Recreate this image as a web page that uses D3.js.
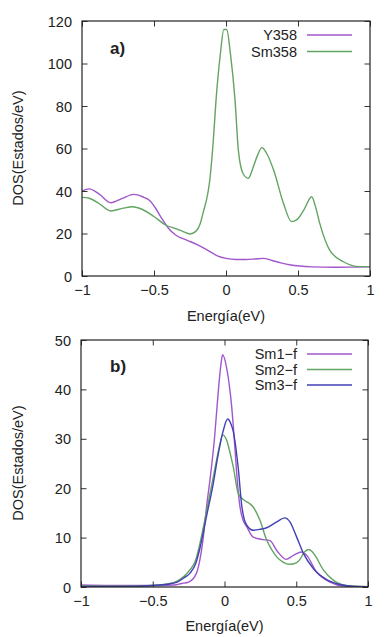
<!DOCTYPE html>
<html><head><meta charset="utf-8">
<script src="https://cdn.jsdelivr.net/npm/d3@7/dist/d3.min.js"></script>
<style>
html,body{margin:0;padding:0;background:#fff;}
svg text{font-family:"Liberation Sans",Arial,Helvetica,sans-serif;fill:#222;}
</style></head>
<body>
<script>
// ---------- data ----------
const xTicks = [-1, -0.5, 0, 0.5, 1];
const xTickLabels = ["\u22121", "\u22120.5", "0", "0.5", "1"];
const yTicksA = [0, 20, 40, 60, 80, 100, 120];
const yTicksB = [0, 10, 20, 30, 40, 50];
const seriesNamesA = ["Y358", "Sm358"];
const seriesNamesB = ["Sm1\u2212f", "Sm2\u2212f", "Sm3\u2212f"];

const y358 = [[-1,40],[-0.95,41],[-0.88,38.5],[-0.8,34.5],[-0.72,36.5],[-0.64,38.4],[-0.58,37.3],[-0.53,35.5],[-0.49,32],[-0.45,27.5],[-0.4,22.5],[-0.35,19.3],[-0.27,16.8],[-0.2,14.8],[-0.12,11.8],[-0.06,9.5],[0,8.3],[0.07,7.8],[0.14,7.8],[0.2,8],[0.26,8.3],[0.32,7.3],[0.38,6.2],[0.45,5.2],[0.51,4.7],[0.6,4.3],[0.75,4.1],[0.9,4.2],[1,4.3]];
const sm358 = [[-1,37],[-0.95,36.6],[-0.88,34],[-0.8,30.6],[-0.72,31.8],[-0.65,32.6],[-0.58,31.3],[-0.5,28],[-0.42,24],[-0.35,22.3],[-0.3,21],[-0.25,19.8],[-0.21,21],[-0.18,24.5],[-0.16,29.5],[-0.11,46.7],[-0.088,64],[-0.069,83],[-0.04,104],[-0.015,116],[0.005,116],[0.03,105],[0.0625,83],[0.086,59],[0.12,48],[0.155,46],[0.19,51.4],[0.22,57],[0.25,60.4],[0.28,58],[0.33,50],[0.4,34],[0.455,25.6],[0.49,26.4],[0.54,31],[0.595,37.3],[0.62,33],[0.65,25],[0.72,12.2],[0.815,6.7],[0.93,4.4],[1,4.4]];

const sm1f = [[-1,0.4],[-0.8,0.3],[-0.6,0.3],[-0.45,0.3],[-0.35,0.4],[-0.3,0.7],[-0.25,1.0],[-0.2,2.5],[-0.175,5],[-0.148,10],[-0.124,16.5],[-0.1,22],[-0.07,30],[-0.045,39],[-0.025,45],[-0.013,47],[0.017,44],[0.05,36.5],[0.073,28],[0.085,23],[0.108,16.2],[0.13,13.5],[0.155,12.2],[0.2,10.1],[0.27,9.6],[0.317,9.4],[0.364,7.4],[0.429,5.6],[0.48,6.4],[0.538,7.1],[0.573,6.4],[0.642,3.0],[0.735,1.0],[0.83,0.2],[1,0.05]];
const sm2f = [[-1,0.2],[-0.7,0.15],[-0.5,0.3],[-0.4,0.6],[-0.33,1.2],[-0.28,2.2],[-0.24,3.5],[-0.2,5.5],[-0.17,9],[-0.124,15.5],[-0.09,20.5],[-0.06,25],[-0.035,28.5],[-0.013,30.8],[0.015,29.7],[0.04,27],[0.061,24.3],[0.096,18.9],[0.131,17.7],[0.17,17],[0.2,16.2],[0.247,13.5],[0.294,9.5],[0.33,7.5],[0.364,6.1],[0.41,5],[0.456,4.6],[0.5,4.9],[0.526,5.6],[0.555,7],[0.584,7.6],[0.61,7.2],[0.631,6.4],[0.69,3.4],[0.758,1.4],[0.85,0.3],[1,0.05]];
const sm3f = [[-1,0.1],[-0.7,0.1],[-0.5,0.3],[-0.4,0.55],[-0.33,1.0],[-0.28,1.9],[-0.24,2.8],[-0.2,4.8],[-0.17,8],[-0.124,14.5],[-0.078,21],[-0.043,27],[-0.01,31.5],[0.022,34],[0.045,33],[0.061,31.5],[0.096,24],[0.12,16.5],[0.155,12.5],[0.2,11.5],[0.25,11.7],[0.294,12],[0.364,13.2],[0.42,14],[0.456,13.2],[0.503,10.1],[0.55,6.8],[0.62,3.7],[0.712,1.5],[0.805,0.5],[0.9,0.1],[1,0.05]];

const colPurple = "#a157cb", colGreen = "#62a462", colBlue = "#4240b4";

// ---------- drawing ----------
const svg = d3.select("body").append("svg").attr("width", 385).attr("height", 637);

function panel(cfg){
  const x = d3.scaleLinear().domain([-1,1]).range([cfg.left, cfg.right]);
  const y = d3.scaleLinear().domain([0, cfg.ymax]).range([cfg.bottom, cfg.top]);
  const g = svg.append("g");
  const clipId = "clip" + cfg.id;
  svg.append("clipPath").attr("id", clipId).append("rect")
    .attr("x", cfg.left).attr("y", cfg.top).attr("width", cfg.right-cfg.left).attr("height", cfg.bottom-cfg.top);

  // curves
  const line = d3.line().x(d=>x(d[0])).y(d=>y(d[1])).curve(d3.curveMonotoneX);
  cfg.series.forEach(s=>{
    g.append("path").attr("d", line(s.data)).attr("fill","none")
      .attr("stroke", s.color).attr("stroke-width", 1.4).attr("clip-path", `url(#${clipId})`);
  });

  // axes with inward ticks
  const tl = 5.5;
  g.append("g").attr("transform",`translate(0,${cfg.bottom})`)
    .call(d3.axisBottom(x).tickValues(xTicks).tickSize(-tl).tickPadding(9).tickFormat((d,i)=>xTickLabels[i]))
    .call(a=>{a.select(".domain").remove(); a.selectAll("text").attr("font-size",14.5).style("fill","#222");});
  g.append("g").attr("transform",`translate(0,${cfg.top})`)
    .call(d3.axisTop(x).tickValues(xTicks).tickSize(-tl).tickFormat(""))
    .call(a=>a.select(".domain").remove());
  g.append("g").attr("transform",`translate(${cfg.left},0)`)
    .call(d3.axisLeft(y).tickValues(cfg.yTicks).tickSize(-tl).tickPadding(10))
    .call(a=>{a.select(".domain").remove(); a.selectAll("text").attr("font-size",14.5).attr("dy","0.35em").style("fill","#222");});
  g.append("g").attr("transform",`translate(${cfg.right},0)`)
    .call(d3.axisRight(y).tickValues(cfg.yTicks).tickSize(-tl).tickFormat(""))
    .call(a=>a.select(".domain").remove());
  g.selectAll(".tick line").attr("stroke","#333");

  g.append("rect").attr("x",cfg.left).attr("y",cfg.top)
    .attr("width",cfg.right-cfg.left).attr("height",cfg.bottom-cfg.top)
    .attr("fill","none").attr("stroke","#222").attr("stroke-width",1.2);

  // labels
  g.append("text").attr("x",(cfg.left+cfg.right)/2).attr("y",cfg.xlabY)
    .attr("text-anchor","middle").attr("font-size",14.5).text("Energía(eV)");
  g.append("text").attr("transform",`translate(23,${cfg.ylabY}) rotate(-90)`)
    .attr("text-anchor","middle").attr("font-size",14.5).text("DOS(Estados/eV)");
  g.append("text").attr("x",110).attr("y",cfg.tagY).attr("font-size",17).attr("font-weight","bold").text(cfg.tag);

  // legend
  cfg.series.forEach((s,i)=>{
    const ly = cfg.legY + i*cfg.legStep;
    g.append("text").attr("x",297).attr("y",ly).attr("dy","0.35em").attr("text-anchor","end")
      .attr("font-size",14.5).text(s.name);
    g.append("line").attr("x1",307).attr("x2",352).attr("y1",ly).attr("y2",ly)
      .attr("stroke",s.color).attr("stroke-width",1.4);
  });
}

panel({id:"a", left:82, right:370, top:21, bottom:276, ymax:120, yTicks:yTicksA,
  xlabY:321, ylabY:148, tag:"a)", tagY:54, legY:35, legStep:16.5,
  series:[{name:seriesNamesA[0],data:y358,color:colPurple},{name:seriesNamesA[1],data:sm358,color:colGreen}]});

panel({id:"b", left:81, right:368, top:340, bottom:587, ymax:50, yTicks:yTicksB,
  xlabY:631, ylabY:463, tag:"b)", tagY:372, legY:354, legStep:15.5,
  series:[{name:seriesNamesB[0],data:sm1f,color:colPurple},{name:seriesNamesB[1],data:sm2f,color:colGreen},{name:seriesNamesB[2],data:sm3f,color:colBlue}]});
</script>
</body></html>
